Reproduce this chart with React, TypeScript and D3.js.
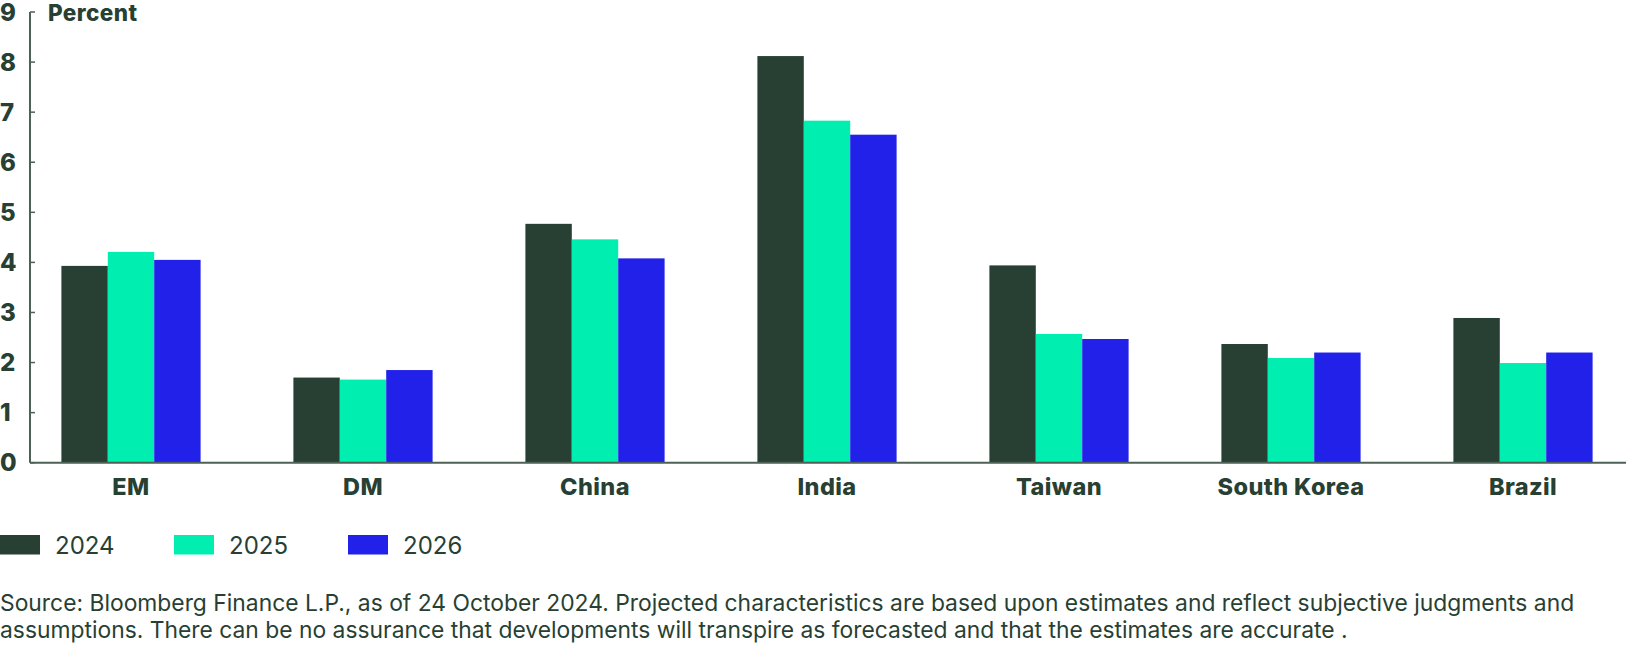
import React from "react";
import * as d3 from "d3";

const categories = ["EM", "DM", "China", "India", "Taiwan", "South Korea", "Brazil"];
const seriesNames = ["2024", "2025", "2026"];
const values2024 = [3.93, 1.70, 4.77, 8.12, 3.94, 2.37, 2.89];
const values2025 = [4.21, 1.66, 4.46, 6.83, 2.57, 2.09, 1.99];
const values2026 = [4.05, 1.85, 4.08, 6.55, 2.47, 2.20, 2.20];
const seriesColors = ["#283f33", "#00efb0", "#2121e9"];
const yTicks = [0, 1, 2, 3, 4, 5, 6, 7, 8, 9];
const sourceLines = [
  "Source: Bloomberg Finance L.P., as of 24 October 2024. Projected characteristics are based upon estimates and reflect subjective judgments and",
  "assumptions. There can be no assurance that developments will transpire as forecasted and that the estimates are accurate .",
];

const W = 1626;
const H = 654;
const TEXT = "#283f33";
const AXIS = "#4d6156";
const FONT = "Inter, 'Noto Sans', sans-serif";

export default function App() {
  const series = [values2024, values2025, values2026];
  const x = d3
    .scaleBand<string>()
    .domain(categories)
    .range([15, 1639])
    .paddingInner(0.4)
    .paddingOuter(0.2);
  const xs = d3.scaleBand<string>().domain(seriesNames).range([0, x.bandwidth()]);
  const y = d3.scaleLinear().domain([0, 9]).range([462.7, 12]);

  return (
    <svg
      width={W}
      height={H}
      style={{ position: "absolute", left: 0, top: 0, background: "#fff" }}
      fontFamily={FONT}
    >
      {/* bars */}
      {categories.map((c, i) => (
        <g key={c}>
          {series.map((s, j) => (
            <rect
              key={j}
              x={(x(c) as number) + (xs(seriesNames[j]) as number)}
              y={y(s[i])}
              width={xs.bandwidth()}
              height={y(0) - y(s[i])}
              fill={seriesColors[j]}
            />
          ))}
        </g>
      ))}

      {/* y axis */}
      <line x1={30} x2={30} y1={y(9)} y2={y(0)} stroke={AXIS} strokeWidth={2} />
      {yTicks.map((t) => (
        <g key={t}>
          <line x1={30} x2={35} y1={y(t)} y2={y(t)} stroke={AXIS} strokeWidth={1.5} />
          <text
            x={0}
            y={y(t)}
            dy="0.36em"
            fontSize={24}
            fontWeight={800}
            fill={TEXT}
          >
            {t}
          </text>
        </g>
      ))}
      <text x={48} y={21} fontSize={22.5} fontWeight={800} letterSpacing={0.4} fill={TEXT}>
        Percent
      </text>

      {/* x axis */}
      <line x1={30} x2={W} y1={y(0)} y2={y(0)} stroke={AXIS} strokeWidth={2} />
      {categories.map((c) => (
        <text
          key={c}
          x={(x(c) as number) + x.bandwidth() / 2}
          y={495}
          textAnchor="middle"
          fontSize={23.5}
          fontWeight={800}
          letterSpacing={0.4}
          fill={TEXT}
        >
          {c}
        </text>
      ))}

      {/* legend */}
      {seriesNames.map((n, j) => (
        <g key={n} transform={`translate(${j * 174},0)`}>
          <rect x={0} y={535} width={40} height={19.5} fill={seriesColors[j]} />
          <text x={55} y={554} fontSize={24} fill={TEXT}>
            {n}
          </text>
        </g>
      ))}

      {/* source */}
      {sourceLines.map((l, k) => (
        <text key={k} x={0} y={611 + k * 27} fontSize={22.85} fill={TEXT}>
          {l}
        </text>
      ))}
    </svg>
  );
}
